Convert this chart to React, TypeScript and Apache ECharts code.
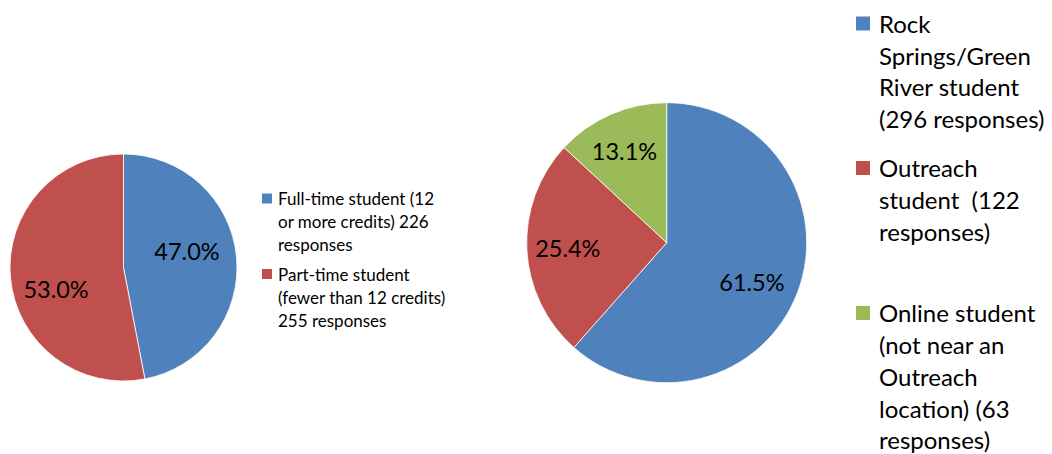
import React, { useEffect, useRef } from "react";
import * as echarts from "echarts";

// ---- Data ----
const statusNames = [
  "Full-time student (12\nor more credits) 226\nresponses",
  "Part-time student\n(fewer than 12 credits)\n255 responses",
];
const statusValues = [226, 255];

const locationNames = [
  "Rock\nSprings/Green\nRiver student\n(296 responses)",
  "Outreach\nstudent  (122\nresponses)",
  "Online student\n(not near an\nOutreach\nlocation) (63\nresponses)",
];
const locationValues = [296, 122, 63];

// ---- Styling ----
const COLORS = ["#4F81BD", "#C0504D", "#9BBB59"];
const FONT = "Lato, 'Open Sans', sans-serif";

// label nudges (dx, dy) relative to ECharts' "inside" position
const statusLabelShift = [
  [4, -11],
  [-8, 16],
];
const locationLabelShift = [
  [17, 13],
  [-26, 2],
  [-13, -25],
];

// legend layout (positions of each legend entry)
const legend1 = { iconX: 262, textX: 278, icon: 10, fontSize: 17, lineHeight: 23, firstLineCenters: [198.5, 274] };
const legend2 = { iconX: 856, textX: 879, icon: 14, fontSize: 24, lineHeight: 31.7, firstLineCenters: [23.5, 168, 313] };

function legendGraphics(names: string[], cfg: typeof legend1) {
  const out: any[] = [];
  names.forEach((name, i) => {
    const c = cfg.firstLineCenters[i];
    out.push({
      type: "rect",
      shape: { x: cfg.iconX, y: c - cfg.icon / 2, width: cfg.icon, height: cfg.icon },
      style: { fill: COLORS[i] },
      silent: true,
    });
    out.push({
      type: "text",
      x: cfg.textX,
      y: c - cfg.lineHeight / 2,
      style: {
        text: name,
        fill: "#000",
        fontSize: cfg.fontSize,
        fontFamily: FONT,
        lineHeight: cfg.lineHeight,
        verticalAlign: "top",
        align: "left",
      },
      silent: true,
    });
  });
  return out;
}

function pieSeries(
  names: string[],
  values: number[],
  center: [number, number],
  radius: number,
  shifts: number[][]
) {
  return {
    type: "pie",
    center,
    radius,
    startAngle: 90,
    clockwise: true,
    avoidLabelOverlap: false,
    silent: true,
    data: values.map((v, i) => ({ name: names[i], value: v, itemStyle: { color: COLORS[i] } })),
    itemStyle: { borderColor: "#ffffff", borderWidth: 0.8 },
    label: {
      show: true,
      position: "inside",
      formatter: (p: any) => `${p.percent.toFixed(1)}%`,
      color: "#000",
      fontSize: 23.5,
      fontFamily: FONT,
    },
    labelLine: { show: false },
    labelLayout: (p: any) => ({ dx: shifts[p.dataIndex][0], dy: shifts[p.dataIndex][1] }),
    emphasis: { disabled: true },
  };
}

export default function App() {
  const ref = useRef<HTMLDivElement>(null);
  useEffect(() => {
    if (!ref.current) return;
    const chart = echarts.init(ref.current, null, { renderer: "svg" });
    chart.setOption({
      animation: false,
      backgroundColor: "#ffffff",
      textStyle: { fontFamily: FONT },
      series: [
        pieSeries(statusNames, statusValues, [123.5, 267.5], 113.5, statusLabelShift),
        pieSeries(locationNames, locationValues, [666.7, 242.7], 140, locationLabelShift),
      ],
      graphic: [
        ...legendGraphics(statusNames, legend1),
        ...legendGraphics(locationNames, legend2 as any),
      ],
    });
    return () => chart.dispose();
  }, []);
  return (
    <div
      ref={ref}
      style={{ position: "absolute", left: 0, top: 0, width: 1052, height: 454 }}
    />
  );
}
